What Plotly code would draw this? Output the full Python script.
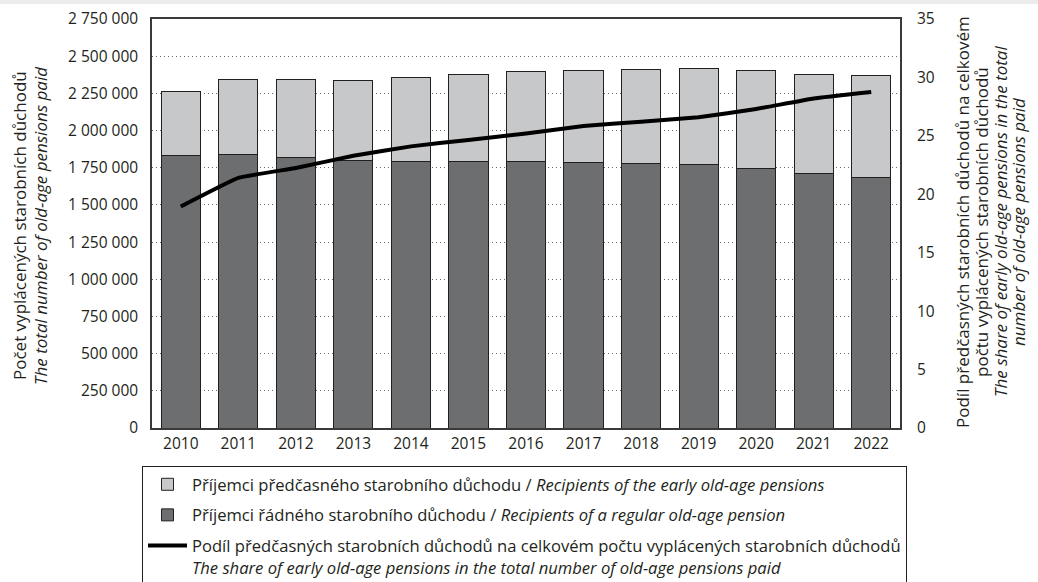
import plotly.graph_objects as go

years = ["2010", "2011", "2012", "2013", "2014", "2015", "2016",
         "2017", "2018", "2019", "2020", "2021", "2022"]
regular = [1833000, 1840000, 1822000, 1797000, 1790000, 1790000, 1790000,
           1784000, 1780000, 1773000, 1746000, 1712000, 1686000]
early = [431000, 500000, 518000, 541000, 565000, 585000, 605000,
         621000, 632000, 643000, 656000, 666000, 681000]
share = [18.95, 21.4, 22.25, 23.3, 24.1, 24.65, 25.2,
         25.85, 26.2, 26.6, 27.3, 28.2, 28.75]

name_early = "Příjemci předčasného starobního důchodu / <i>Recipients of the early old-age pensions</i>"
name_regular = "Příjemci řádného starobního důchodu / <i>Recipients of a regular old-age pension</i>"
name_share = ("Podíl předčasných starobních důchodů na celkovém počtu vyplácených starobních důchodů"
              "<br><i>The share of early old-age pensions in the total number of old-age pensions paid</i>")

left_title_lines = ["Počet vyplácených starobních důchodů",
                    "<i>The total number of old-age pensions paid</i>"]
right_title_lines = ["Podíl předčasných starobních důchodů na celkovém",
                     "počtu vyplácených starobních důchodů",
                     "<i>The share of early old-age pensions in the total</i>",
                     "<i>number of old-age pensions paid</i>"]

TXT = "#231f20"
FONT = "Open Sans"

fig = go.Figure()
fig.add_trace(go.Bar(
    x=years, y=regular, name=name_regular,
    marker=dict(color="#6d6e70", line=dict(color="#231f20", width=1)),
    legendgroup="b", legendrank=2,
))
fig.add_trace(go.Bar(
    x=years, y=early, name=name_early,
    marker=dict(color="#c7c8ca", line=dict(color="#231f20", width=1)),
    legendgroup="a", legendrank=1,
))
fig.add_trace(go.Scatter(
    x=years, y=share, name=name_share, yaxis="y2", mode="lines",
    line=dict(color="#000000", width=4, shape="spline", smoothing=0.3),
    legendgroup="c", legendrank=3,
))

L, R, T, B = 152, 138, 19, 154
W, H = 1038, 582
pw = W - L - R
ph = H - T - B


def px_x(p):
    return (p - L) / pw


def px_y(p):
    return (T + ph - p) / ph


annotations = []
for xp, txt in zip([19, 40], left_title_lines):
    annotations.append(dict(
        text=txt, textangle=-90, xref="paper", yref="paper",
        x=px_x(xp), y=px_y(226), xanchor="center", yanchor="middle",
        showarrow=False, font=dict(family=FONT, size=17, color=TXT),
    ))
for xp, txt in zip([962, 981, 1000, 1018], right_title_lines):
    annotations.append(dict(
        text=txt, textangle=-90, xref="paper", yref="paper",
        x=px_x(xp), y=px_y(222), xanchor="center", yanchor="middle",
        showarrow=False, font=dict(family=FONT, size=17, color=TXT),
    ))

fig.update_layout(
    width=W, height=H,
    margin=dict(l=L, r=R, t=T, b=B, autoexpand=False),
    paper_bgcolor="white", plot_bgcolor="white",
    barmode="stack", bargap=0.32,
    separators=", ",
    font=dict(family=FONT, size=15.5, color=TXT),
    showlegend=True,
    legend=dict(
        x=px_x(142), xanchor="left",
        y=px_y(466), yanchor="top",
        orientation="v", traceorder="grouped", tracegroupgap=6,
        bordercolor="#231f20", borderwidth=1, bgcolor="white",
        font=dict(family=FONT, size=16.6, color=TXT),
        valign="top", itemwidth=39,
    ),
    xaxis=dict(
        type="category", showgrid=False, showline=True, linecolor="#3a3a3a",
        linewidth=1.5, mirror=True, ticks="", ticklabelstandoff=1,
        tickfont=dict(size=15.5),
    ),
    yaxis=dict(
        range=[0, 2750000], dtick=250000, tickformat=",d",
        showgrid=True, gridcolor="#6a6a6a", gridwidth=1, griddash="1px,3px",
        showline=True, linecolor="#3a3a3a", linewidth=1.5, mirror=True,
        ticks="", ticklabelstandoff=9, zeroline=False,
        tickfont=dict(size=15.5),
    ),
    yaxis2=dict(
        range=[0, 35], dtick=5, overlaying="y", side="right",
        showgrid=False, zeroline=False, showline=False, ticks="",
        ticklabelstandoff=16, tickfont=dict(size=15.5),
    ),
    annotations=annotations,
    shapes=[dict(
        type="rect", xref="paper", yref="paper", layer="above",
        x0=px_x(0), x1=px_x(W), y0=px_y(0), y1=px_y(4),
        fillcolor="#ebeceb", line=dict(width=0),
    )],
)

fig.write_html("out.html", config={"displayModeBar": False},
               post_script="document.body.style.margin='0px';")
